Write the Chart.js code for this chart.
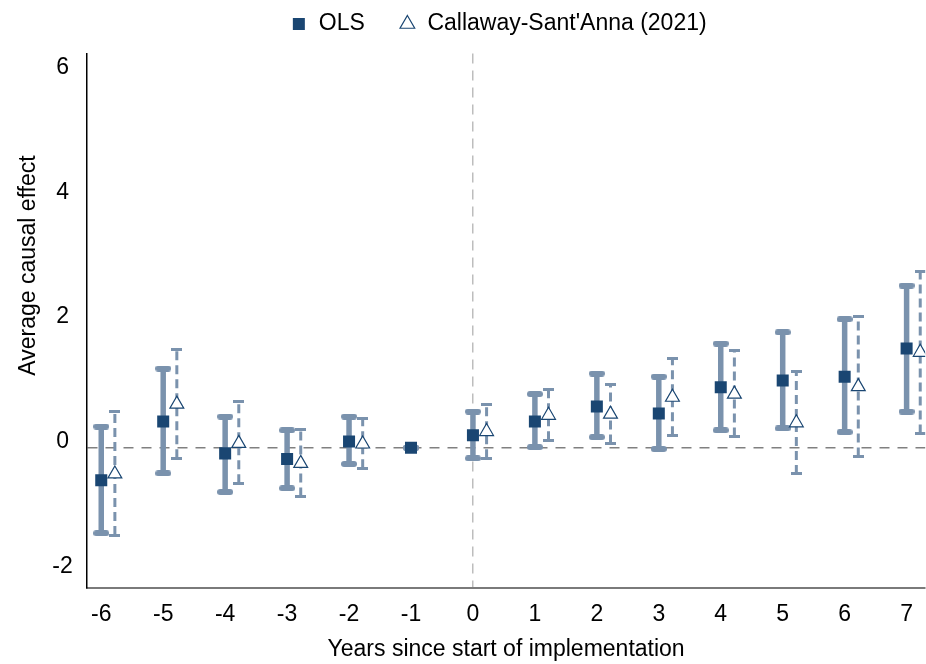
<!DOCTYPE html>
<html>
<head>
<meta charset="utf-8">
<title>Event study: OLS vs Callaway-Sant'Anna</title>
<script src="https://cdn.jsdelivr.net/npm/chart.js@4.4.1/dist/chart.umd.min.js"></script>
<style>
  html, body { margin: 0; padding: 0; background: #ffffff; }
  #wrap { width: 926px; height: 664px; }
</style>
</head>
<body>
<div id="wrap"><canvas id="chart" width="926" height="664"></canvas></div>
<script>
// Event time (years relative to the start of implementation)
const years = [-6, -5, -4, -3, -2, -1, 0, 1, 2, 3, 4, 5, 6, 7];

// OLS estimates with confidence bounds
const olsEst  = [-0.52, 0.42, -0.09, -0.18, 0.10, 0.00, 0.20, 0.42, 0.66, 0.55, 0.97, 1.08, 1.14, 1.59];
const olsLow  = [-1.37, -0.41, -0.71, -0.65, -0.26, 0.00, -0.17, 0.01, 0.17, -0.02, 0.28, 0.31, 0.25, 0.58];
const olsHigh = [0.34, 1.27, 0.50, 0.28, 0.50, 0.00, 0.58, 0.86, 1.19, 1.14, 1.67, 1.85, 2.06, 2.60];

// Callaway-Sant'Anna (2021) estimates with confidence bounds (no estimate at the reference year)
const csEst  = [-0.42, 0.70, 0.07, -0.25, 0.06, null, 0.26, 0.52, 0.54, 0.81, 0.86, 0.40, 0.98, 1.53];
const csLow  = [-1.40, -0.17, -0.57, -0.78, -0.33, null, -0.17, 0.12, 0.07, 0.20, 0.18, -0.42, -0.14, 0.23];
const csHigh = [0.58, 1.58, 0.74, 0.30, 0.47, null, 0.70, 0.94, 1.02, 1.43, 1.56, 1.22, 2.10, 2.82];

// Axis ticks and texts
const xTicks = [-6, -5, -4, -3, -2, -1, 0, 1, 2, 3, 4, 5, 6, 7];
const yTicks = [-2, 0, 2, 4, 6];
const seriesNames = ['OLS', "Callaway-Sant'Anna (2021)"];
const xTitle = 'Years since start of implementation';
const yTitle = 'Average causal effect';

// Horizontal dodge so the two series sit side by side
const csDodge = 0.22;

const FONT = "'Liberation Sans', Arial, Helvetica, sans-serif";
const NAVY = '#1a4672';
const CI = '#7a92ad';

function points(xs, ys, dx) {
  const out = [];
  xs.forEach((x, i) => { if (ys[i] !== null) out.push({ x: x + dx, y: ys[i] }); });
  return out;
}

// Each interval becomes a two-point segment; a null point breaks the line between intervals
function intervals(xs, lo, hi, dx) {
  const out = [];
  xs.forEach((x, i) => {
    if (lo[i] === null || hi[i] === null) return;
    out.push({ x: x + dx, y: lo[i] }, { x: x + dx, y: hi[i] }, { x: x + dx, y: null });
  });
  return out;
}

// Cap glyphs for the interval ends
function capGlyph(w, h, color, rounded) {
  const c = document.createElement('canvas');
  c.width = w; c.height = h;
  const g = c.getContext('2d');
  g.fillStyle = color;
  if (rounded) {
    g.beginPath();
    g.roundRect(0, 0, w, h, h / 2);
    g.fill();
  } else {
    g.fillRect(0, 0, w, h);
  }
  return c;
}
const olsCap = capGlyph(16, 6, CI, true);
const csCap = capGlyph(11, 3, CI, false);

const yTitlePlugin = {
  id: 'yTitleText',
  afterDraw(chart) {
    const ctx = chart.ctx;
    ctx.save();
    ctx.translate(29, 265.5);
    ctx.rotate(-Math.PI / 2);
    ctx.font = '23px ' + FONT;
    ctx.fillStyle = '#000000';
    ctx.textAlign = 'center';
    ctx.textBaseline = 'middle';
    ctx.fillText(yTitle, 0, 0);
    ctx.restore();
  }
};

new Chart(document.getElementById('chart'), {
  type: 'line',
  data: {
    datasets: [
      {
        label: seriesNames[0],
        data: points(years, olsEst, 0),
        showLine: false,
        pointStyle: 'rect',
        pointRadius: 8.5,
        pointBackgroundColor: NAVY,
        pointBorderColor: NAVY,
        pointBorderWidth: 0,
        backgroundColor: NAVY,
        borderColor: NAVY,
        borderWidth: 0
      },
      {
        label: seriesNames[1],
        data: points(years, csEst, csDodge),
        showLine: false,
        pointStyle: 'triangle',
        pointRadius: 8,
        pointBackgroundColor: '#ffffff',
        pointBorderColor: NAVY,
        pointBorderWidth: 1.2,
        backgroundColor: '#ffffff',
        borderColor: NAVY,
        borderWidth: 1.2
      },
      {
        label: 'ols-ci',
        data: intervals(years, olsLow, olsHigh, 0),
        showLine: true,
        spanGaps: false,
        borderColor: CI,
        borderWidth: 5.5,
        borderCapStyle: 'butt',
        pointStyle: olsCap,
        pointRadius: 8
      },
      {
        label: 'cs-ci',
        data: intervals(years, csLow, csHigh, csDodge),
        showLine: true,
        spanGaps: false,
        borderColor: CI,
        borderWidth: 3,
        borderDash: [9, 5],
        pointStyle: csCap,
        pointRadius: 6
      }
    ]
  },
  options: {
    responsive: false,
    animation: false,
    devicePixelRatio: 1,
    events: [],
    layout: { autoPadding: false, padding: { top: -21.5, left: 71, right: 0, bottom: 0 } },
    scales: {
      x: {
        type: 'linear',
        min: -6.23,
        max: 7.3,
        afterBuildTicks: s => { s.ticks = xTicks.map(v => ({ value: v })); },
        afterFit: s => { s.height = 76; },
        ticks: {
          padding: 13,
          color: '#000000',
          font: { family: FONT, size: 23 },
          maxRotation: 0,
          autoSkip: false
        },
        grid: {
          drawTicks: false,
          lineWidth: 1.5,
          color: c => (c.tick && c.tick.value === 0 ? '#bdbdbd' : 'rgba(0,0,0,0)')
        },
        border: { display: true, color: '#7a7a7a', width: 2, dash: [10, 7] },
        title: {
          display: true,
          text: xTitle,
          color: '#000000',
          font: { family: FONT, size: 23 },
          padding: { top: 0, bottom: 1 }
        }
      },
      y: {
        type: 'linear',
        min: -2.248,
        max: 6.32,
        afterBuildTicks: s => { s.ticks = yTicks.map(v => ({ value: v })); },
        afterFit: s => { s.width = 16; },
        ticks: {
          // labels are placed to the left of the axis line, centred on one column
          mirror: true,
          padding: -34.7,
          crossAlign: 'center',
          labelOffset: -6,
          color: '#000000',
          font: { family: FONT, size: 23 }
        },
        grid: {
          drawTicks: false,
          lineWidth: 1.5,
          color: c => (c.tick && c.tick.value === 0 ? '#808080' : 'rgba(0,0,0,0)')
        },
        border: { display: true, color: '#000000', width: 1.5, dash: [10, 8] }
      }
    },
    plugins: {
      legend: {
        display: true,
        position: 'top',
        labels: {
          usePointStyle: true,
          boxWidth: 17,
          boxHeight: 12,
          padding: 34,
          color: '#000000',
          font: { family: FONT, size: 23 },
          filter: item => item.datasetIndex < 2
        }
      },
      // empty spacer box between the legend and the plot area
      subtitle: {
        display: true,
        text: '',
        position: 'top',
        weight: 500,
        padding: 0,
        font: { family: FONT, size: 8, lineHeight: 1 }
      },
      tooltip: { enabled: false }
    }
  },
  plugins: [yTitlePlugin]
});
</script>
</body>
</html>
